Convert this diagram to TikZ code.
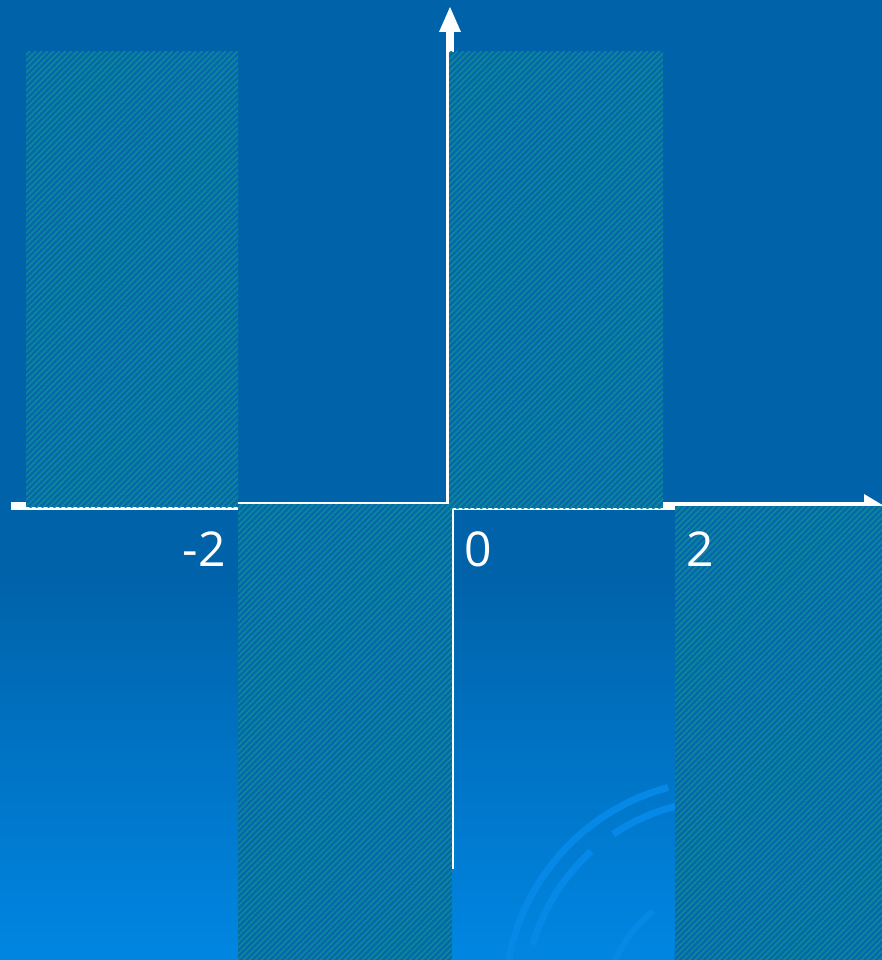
\documentclass[tikz,border=0pt]{standalone}
\usepackage{fontspec}
\setmainfont{Open Sans}
\usetikzlibrary{patterns.meta}
\definecolor{bgtop}{RGB}{0,99,170}
\definecolor{bgbot}{RGB}{0,134,226}
\definecolor{rectfill}{RGB}{6,104,172}
\definecolor{stripe}{RGB}{14,138,150}
\definecolor{arcc}{RGB}{6,136,230}
\definecolor{blob}{RGB}{0,126,216}
\begin{document}
\begin{tikzpicture}[x=1pt,y=-1pt,
  axisline/.style={white,line width=8pt},
  hatch/.style={preaction={fill=rectfill},
    pattern={Lines[angle=45,distance=4.2pt,line width=1.5pt]},pattern color=stripe},
  lab/.style={white,font=\fontsize{48}{48}\selectfont,inner sep=0pt},
  deco/.style={arcc,line width=7pt}]
\useasboundingbox (0,0) rectangle (882,960);
% background
\fill[bgtop] (0,0) rectangle (882,581);
\shade[top color=bgtop,bottom color=bgbot] (0,580) rectangle (882,960);
% faint decorative arcs
\draw[deco] (725,1000) ++(188:220) arc[start angle=188,end angle=255,radius=220];
\draw[deco] (725,1000) ++(196:200) arc[start angle=196,end angle=228,radius=200];
\draw[deco] (725,1000) ++(236:200) arc[start angle=236,end angle=262,radius=200];
\draw[deco,line width=6pt] (730,1010) ++(190:125) arc[start angle=190,end angle=232,radius=125];
\fill[blob] (725,960) circle (52);
% axes
\coordinate (xl) at (11,506);
\coordinate (xr) at (866,506);
\coordinate (yb) at (450,869);
\coordinate (yt) at (450,32);
\draw[axisline] (xl) -- (xr);
\draw[axisline] (yb) -- (yt);
\fill[white] (439,32) -- (450,7) -- (461,32) -- cycle;
\fill[white] (864,494) -- (884,506) -- (864,518) -- cycle;
% hatched regions
\path[hatch] (26,52) rectangle (238,507);
\path[hatch] (238,504) rectangle (452,960);
\path[hatch] (449,52) rectangle (663,508);
\path[hatch] (675,506) rectangle (882,960);
% labels
\node[lab,anchor=base east] (m2) at (226,566) {-2};
\node[lab,anchor=base west] (z) at (464,566) {0};
\node[lab,anchor=base west] (t) at (686,566) {2};
\end{tikzpicture}
\end{document}
